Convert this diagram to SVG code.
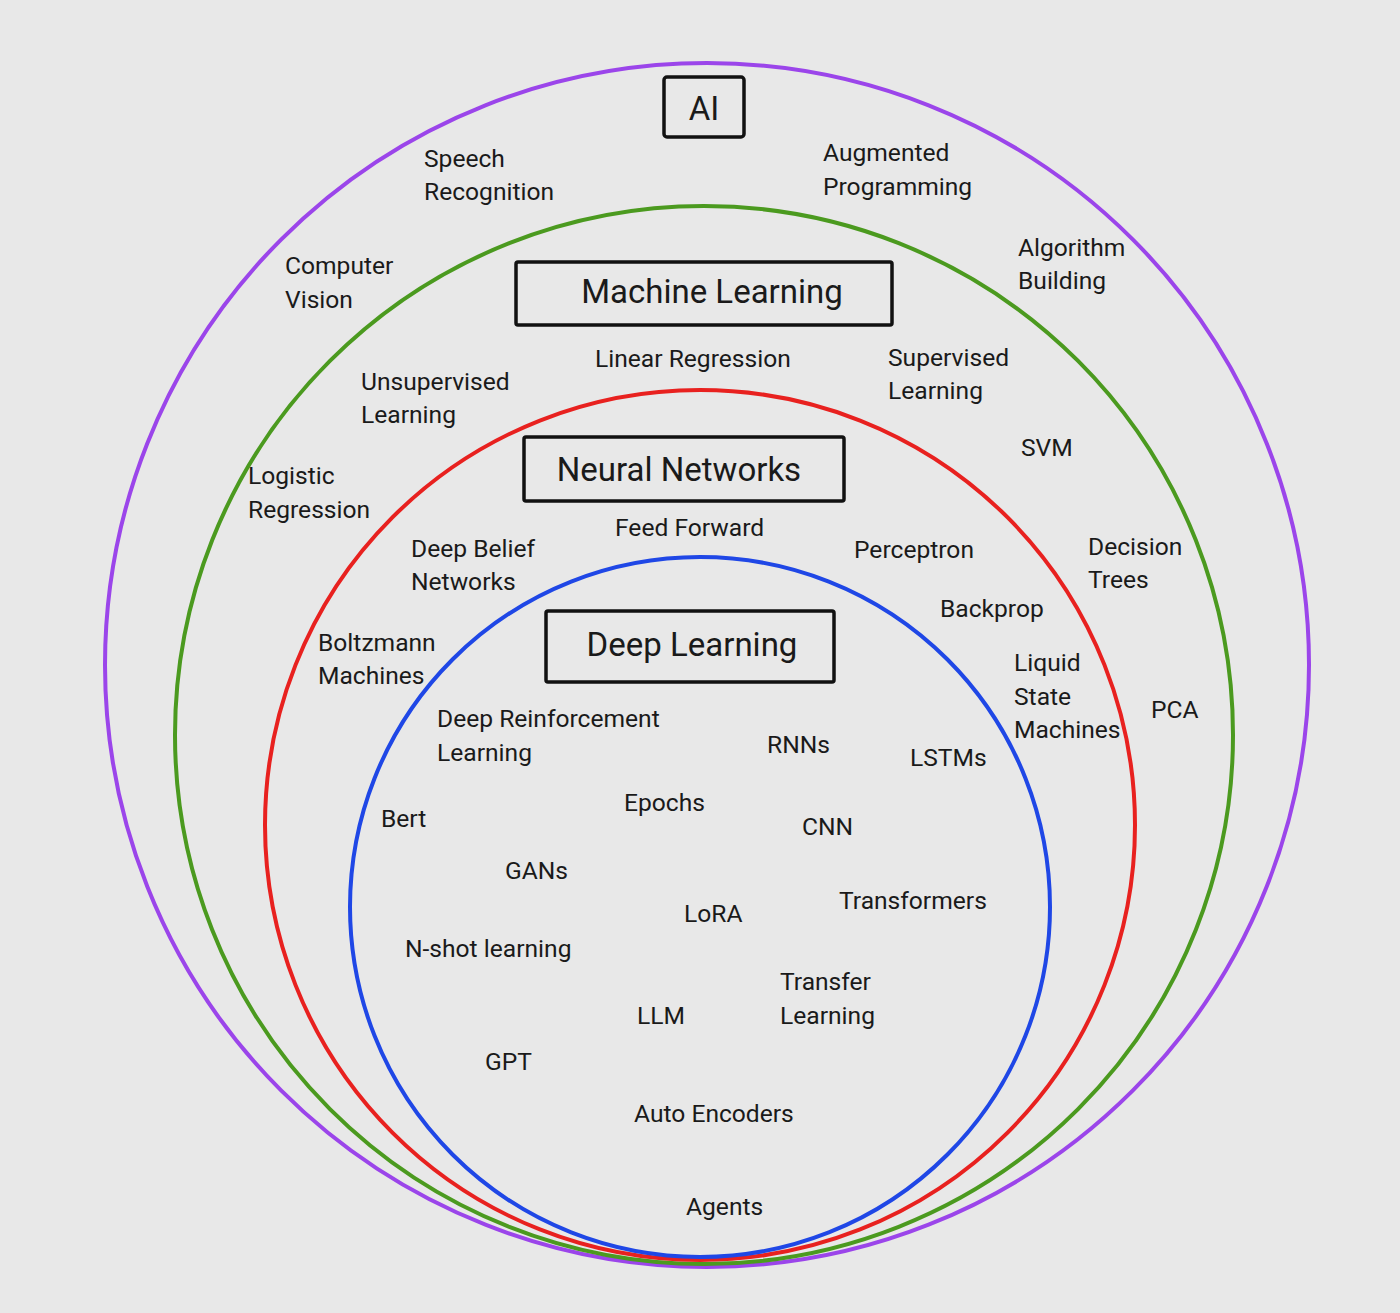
<svg xmlns="http://www.w3.org/2000/svg" width="1400" height="1313" viewBox="0 0 1400 1313">
<style>
text{font-family:Roboto,"Liberation Sans",sans-serif;fill:#1a1a1a}
.l{font-size:24.6px}
.t{font-size:33px;text-anchor:middle}
.box{fill:none;stroke:#111;stroke-width:3.5}
.ring{fill:none;stroke-width:4}
</style>
<rect width="1400" height="1313" fill="#e8e8e8"/>
<g id="rings">
<circle id="ring-ai" class="ring" cx="707" cy="665" r="602" stroke="#9b45ea"/>
<circle id="ring-ml" class="ring" cx="704" cy="735" r="529" stroke="#4b9a1f"/>
<circle id="ring-nn" class="ring" cx="700" cy="825" r="435" stroke="#e8211f"/>
<circle id="ring-dl" class="ring" cx="700" cy="907" r="350" stroke="#1f47e6"/>
</g>
<g id="ai">
<rect class="box" x="664" y="77" width="80" height="60" rx="3"/>
<text class="t" x="704" y="120">AI</text>
</g>
<g id="ml">
<rect class="box" x="516" y="262" width="376" height="63" rx="2"/>
<text class="t" x="712" y="303">Machine Learning</text>
</g>
<g id="nn">
<rect class="box" x="524" y="437" width="320" height="64" rx="2"/>
<text class="t" x="679" y="481">Neural Networks</text>
</g>
<g id="dl">
<rect class="box" x="546" y="611" width="288" height="71" rx="2"/>
<text class="t" x="692" y="656">Deep Learning</text>
</g>
<g id="labels" class="l">
<text x="424" y="167">Speech</text><text x="424" y="200">Recognition</text>
<text x="823" y="161">Augmented</text><text x="823" y="195">Programming</text>
<text x="285" y="274">Computer</text><text x="285" y="308">Vision</text>
<text x="1018" y="256">Algorithm</text><text x="1018" y="289">Building</text>
<text x="595" y="367">Linear Regression</text>
<text x="361" y="390">Unsupervised</text><text x="361" y="423">Learning</text>
<text x="888" y="366">Supervised</text><text x="888" y="399">Learning</text>
<text x="1021" y="456">SVM</text>
<text x="248" y="484">Logistic</text><text x="248" y="518">Regression</text>
<text x="615" y="536">Feed Forward</text>
<text x="411" y="557">Deep Belief</text><text x="411" y="590">Networks</text>
<text x="854" y="558">Perceptron</text>
<text x="1088" y="555">Decision</text><text x="1088" y="588">Trees</text>
<text x="940" y="617">Backprop</text>
<text x="318" y="651">Boltzmann</text><text x="318" y="684">Machines</text>
<text x="1014" y="671">Liquid</text><text x="1014" y="705">State</text><text x="1014" y="738">Machines</text>
<text x="1151" y="718">PCA</text>
<text x="437" y="727">Deep Reinforcement</text><text x="437" y="761">Learning</text>
<text x="767" y="753">RNNs</text>
<text x="910" y="766">LSTMs</text>
<text x="624" y="811">Epochs</text>
<text x="381" y="827">Bert</text>
<text x="802" y="835">CNN</text>
<text x="505" y="879">GANs</text>
<text x="839" y="909">Transformers</text>
<text x="684" y="922">LoRA</text>
<text x="405" y="957">N-shot learning</text>
<text x="780" y="990">Transfer</text><text x="780" y="1024">Learning</text>
<text x="637" y="1024">LLM</text>
<text x="485" y="1070">GPT</text>
<text x="634" y="1122">Auto Encoders</text>
<text x="686" y="1215">Agents</text>
</g>
</svg>
